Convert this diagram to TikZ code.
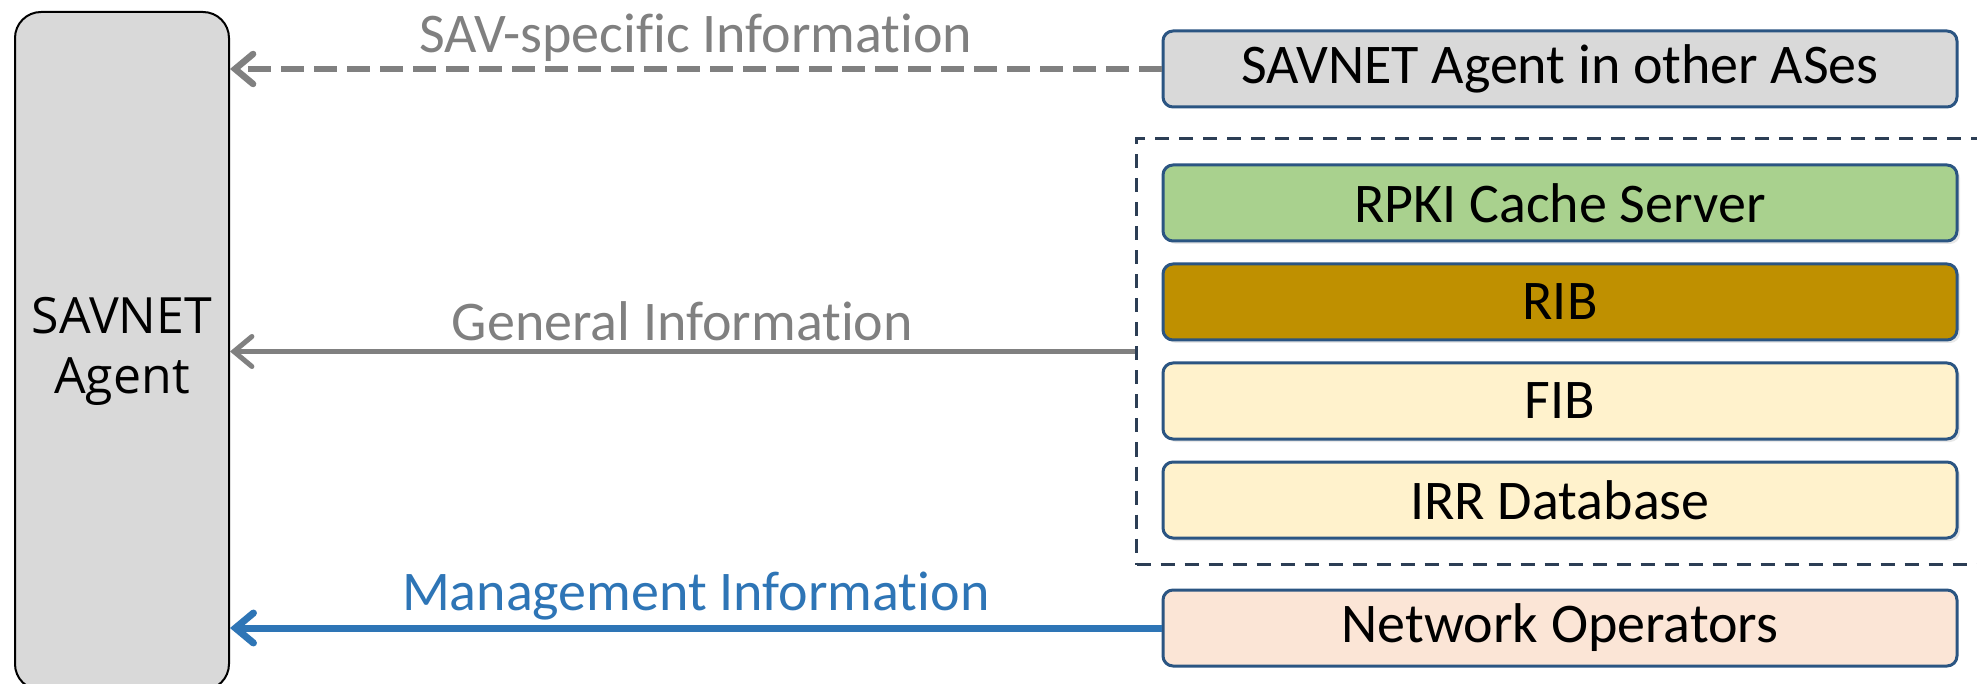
\documentclass[tikz,border=0pt]{standalone}
\usepackage{fontspec}
\setmainfont{Carlito}[Ligatures=NoCommon]
\newfontfamily\agentfont{Open Sans}
\usepackage{xcolor}
\usepackage{tikz}
\usetikzlibrary{positioning,fit,shadows,arrows.meta}

\definecolor{agentgray}{HTML}{D9D9D9}
\definecolor{edgeblue}{HTML}{2B5582}
\definecolor{framecol}{HTML}{2C3E55}
\definecolor{rpkigreen}{HTML}{A9D18E}
\definecolor{ribgold}{HTML}{BF9000}
\definecolor{fibcream}{HTML}{FFF2CC}
\definecolor{opspeach}{HTML}{FBE5D6}
\definecolor{infogray}{HTML}{808080}
\definecolor{infoblue}{HTML}{2E75B6}

\begin{document}
\begin{tikzpicture}[x=0.5pt, y=-0.5pt, node distance=10pt,
        agentbox/.style={draw=black, line width=1pt, fill=agentgray, rounded corners=13pt,
            minimum width=107pt, minimum height=339pt, align=center,
            font=\agentfont\fontsize{25}{30}\selectfont},
        srcbox/.style={draw=edgeblue, line width=1.5pt, rounded corners=5pt, inner sep=0pt,
            minimum width=397pt, minimum height=38pt, font=\fontsize{28}{32}\selectfont},
        shadowed/.style={drop shadow={opacity=0.18, shadow xshift=1.5pt, shadow yshift=-1.5pt}},
        framebox/.style={draw=framecol, line width=1.75pt, dash pattern=on 7pt off 5pt, inner sep=12.5pt},
        infoline/.style={line width=2.5pt, -{Straight Barb[length=9pt, width=15pt, line cap=round]}},
        infolabel/.style={above, inner sep=2pt, font=\fontsize{28}{32}\selectfont}]
    \path[use as bounding box] (0,0) rectangle (1977,684);
    \clip (0,0) rectangle (1977,684);

    \node[agentbox] (agent) at (122,351) {SAVNET\\Agent};

    \node[srcbox, fill=agentgray] (others) at (1560,69) {SAVNET Agent in other ASes};
    \node[srcbox, shadowed, fill=rpkigreen] (rpki) at (1560,203) {RPKI Cache Server};
    \node[srcbox, shadowed, fill=ribgold, below=of rpki] (rib) {RIB};
    \node[srcbox, shadowed, fill=fibcream, below=of rib] (fib) {FIB};
    \node[srcbox, shadowed, fill=fibcream, below=of fib] (irr) {IRR Database};
    \node[framebox, fit=(rpki) (irr)] (sources) {};
    \node[srcbox, fill=opspeach] (ops) at (1560,628) {Network Operators};

    \draw[infoline, infogray, line width=3.25pt, dash pattern=on 11.5pt off 5pt]
        (others.west) -- (agent.east |- others.west)
        node[infolabel, midway, text=infogray] {SAV-specific Information};
    \draw[infoline, infogray] (sources.west) -- (agent.east |- sources.west)
        node[infolabel, midway, inner sep=4pt, text=infogray] {General Information};
    \draw[infoline, infoblue, line width=3.5pt] (ops.west) -- (agent.east |- ops.west)
        node[infolabel, midway, text=infoblue] {Management Information};
\end{tikzpicture}
\end{document}
